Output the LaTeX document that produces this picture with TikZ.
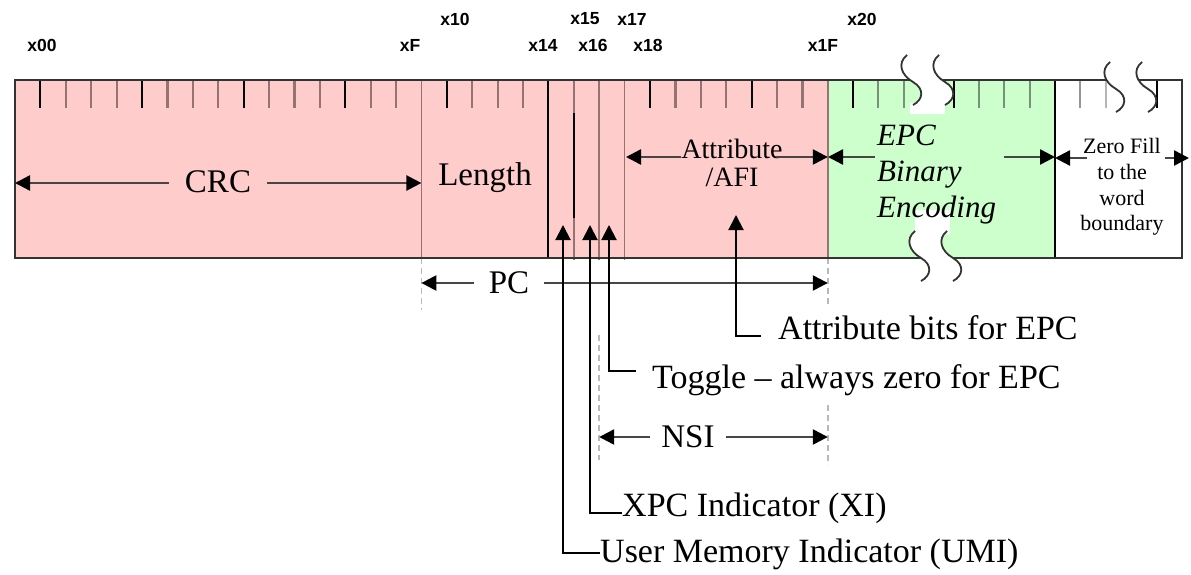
\documentclass[tikz,border=0pt]{standalone}
\usepackage{fontspec}
\setmainfont{Liberation Serif}
\newfontfamily\lblfont{Liberation Sans}
\usetikzlibrary{arrows.meta}
\definecolor{pinkfill}{RGB}{255,204,204}
\definecolor{greenfill}{RGB}{204,255,204}
\definecolor{tickgray}{RGB}{150,115,115}
\definecolor{gtickgray}{RGB}{120,145,120}
\definecolor{wtickgray}{RGB}{150,150,150}
\definecolor{dashgray}{RGB}{185,185,185}
\definecolor{shaft}{RGB}{70,70,70}
\begin{document}
\begin{tikzpicture}[x=1pt,y=-1pt,
  blacktick/.style={line width=2pt, draw=black},
  graytick/.style={line width=2.2pt, draw=tickgray},
  sepline/.style={line width=1.6pt, draw=tickgray},
  dashext/.style={line width=1.6pt, draw=dashgray, dash pattern=on 6pt off 4pt},
  dim/.style={line width=2.4pt, draw=shaft, -{Triangle[length=15pt,width=15pt,color=black]}},
  conn/.style={line width=2pt, draw=black, -{Triangle[length=15pt,width=15pt]}},
  squig/.style={line width=1.8pt, draw=black!80},
  bitlbl/.style={font=\lblfont\bfseries\fontsize{17.5}{17.5}\selectfont, inner sep=0pt},
  big/.style={font=\fontsize{33}{36}\selectfont},
  note/.style={font=\fontsize{34}{36}\selectfont, anchor=west, inner ysep=0pt},
  squigpair/.pic={
    \fill[white] (0,0) .. controls +(-10,8) and +(-12,-7) .. (6,27) .. controls +(12,7) and +(10,-5) .. (6,50)
      -- (38,50) .. controls +(10,-5) and +(12,7) .. (38,27) .. controls +(-12,-7) and +(-10,8) .. (32,0) -- cycle;
    \draw[squig] (0,0) .. controls +(-10,8) and +(-12,-7) .. (6,27) .. controls +(12,7) and +(10,-5) .. (6,50);
    \draw[squig] (32,0) .. controls +(-10,8) and +(-12,-7) .. (38,27) .. controls +(12,7) and +(10,-5) .. (38,50);
  }
]
\useasboundingbox (0,0) rectangle (1191,575);

% fills
\fill[pinkfill] (15,80) rectangle (828,258);
\fill[greenfill] (828,80) rectangle (1055,258);

% ticks
\foreach \k in {1,5,9,13,17,25,29}
  \draw[blacktick] ({15+25.4*\k},80) -- ({15+25.4*\k},108);
\foreach \k in {2,3,4,6,7,8,10,11,12,14,15,18,19,20,26,27,28,30,31}
  \draw[graytick] ({15+25.4*\k},80) -- ({15+25.4*\k},108);
\foreach \x in {853,954}
  \draw[blacktick] (\x,80) -- (\x,108);
\foreach \x in {878,904,979,1004,1030}
  \draw[line width=2.2pt, draw=gtickgray] (\x,80) -- (\x,108);
\draw[line width=2.2pt, draw=wtickgray] (1080,80) -- (1080,108);
\draw[line width=2.2pt, draw=wtickgray!70] (1106,80) -- (1106,108);
\draw[blacktick] (1157,80) -- (1157,108);

% field separators
\draw[sepline] (421.4,80) -- (421.4,258);
\draw[dashext] (421.4,258) -- (421.4,310);
\draw[line width=2pt] (548.4,80) -- (548.4,258);
\draw[sepline] (573.8,80) -- (573.8,260);
\draw[line width=2pt] (573.8,113) -- (573.8,218);
\draw[sepline] (599.2,80) -- (599.2,260);
\draw[sepline] (624.6,80) -- (624.6,260);
\draw[sepline] (827.8,80) -- (827.8,258);
\draw[dashext] (827.8,258) -- (827.8,307);
\draw[dashext] (827.8,405) -- (827.8,465);
\draw[dashext] (599.2,335) -- (599.2,460);
\draw[line width=2pt] (1055,80) -- (1055,258);
\draw[line width=2pt, draw=black!80] (15,80) rectangle (1182,258);

% breaks
\fill[white] (910,103) rectangle (945,114);
\fill[white] (915,210) rectangle (950,234);
\pic at (907,55) {squigpair};
\pic at (915,231) {squigpair};
\pic at (1110,62) {squigpair};

% bit position labels
\node[bitlbl] (b00) at (42,45) {x00};
\node[bitlbl] (b0F) at (410,45) {xF};
\node[bitlbl] (b10) at (455,19) {x10};
\node[bitlbl] (b14) at (543,45) {x14};
\node[bitlbl] (b15) at (585,19) {x15};
\node[bitlbl] (b16) at (593,45) {x16};
\node[bitlbl] (b17) at (632,19) {x17};
\node[bitlbl] (b18) at (648,45) {x18};
\node[bitlbl] (b1F) at (823,45) {x1F};
\node[bitlbl] (b20) at (862,19) {x20};

% field texts
\node[big, inner xsep=16pt] (crc) at (218,182) {CRC};
\coordinate (crcL) at (15,183);
\coordinate (crcR) at (421.4,183);
\draw[dim] (crc.west |- crcL) -- (crcL);
\draw[dim] (crc.east |- crcR) -- (crcR);

\node[big] (len) at (485,178) {Length};

\node[align=center, font=\fontsize{28}{28}\selectfont, inner sep=0pt] (attr) at (732,163) {Attribute\\/AFI};
\coordinate (attrL) at (626,157);
\coordinate (attrLs) at (681,157);
\coordinate (attrR) at (827.8,157);
\coordinate (attrRs) at (776,157);
\draw[dim] (attrLs) -- (attrL);
\draw[dim] (attrRs) -- (attrR);

\node[align=left, anchor=west, font=\itshape\fontsize{31}{36}\selectfont, inner sep=0pt] (epc) at (877,175) {EPC\\Binary\\Encoding};
\coordinate (epcL) at (828,157);
\coordinate (epcLs) at (875,157);
\coordinate (epcR) at (1055,157);
\coordinate (epcRs) at (1004,157);
\draw[dim] (epcLs) -- (epcL);
\draw[dim] (epcRs) -- (epcR);

\node[align=center, font=\fontsize{22}{25.7}\selectfont, inner sep=0pt] (zf) at (1122,187) {Zero Fill\\to the\\word\\boundary};
\coordinate (zfL) at (1055,158);
\coordinate (zfLs) at (1087,158);
\coordinate (zfR) at (1189,158);
\coordinate (zfRs) at (1165,158);
\draw[dim] (zfLs) -- (zfL);
\draw[dim] (zfRs) -- (zfR);

% PC and NSI spans
\node[big, inner xsep=15pt] (pc) at (509,283) {PC};
\coordinate (pcL) at (421.4,283);
\coordinate (pcR) at (827.8,283);
\draw[dim] (pc.west |- pcL) -- (pcL);
\draw[dim] (pc.east |- pcR) -- (pcR);

\node[big, inner xsep=11pt] (nsi) at (688,437) {NSI};
\coordinate (nsiL) at (599.2,437);
\coordinate (nsiR) at (827.8,437);
\draw[dim] (nsi.west |- nsiL) -- (nsiL);
\draw[dim] (nsi.east |- nsiR) -- (nsiR);

% callout labels
\node[note, inner xsep=17pt] (abits) at (761,328) {Attribute bits for EPC};
\node[note, inner xsep=16pt] (tgl) at (636,380) {Toggle -- always zero for EPC};
\node[note, inner xsep=0pt] (xi) at (622,508) {XPC Indicator (XI)};
\node[note, inner xsep=0pt] (umi) at (600,554) {User Memory Indicator (UMI)};

\coordinate (abitsTip) at (736,215);
\coordinate (abitsC) at (736,336);
\coordinate (tglTip) at (609,225);
\coordinate (tglC) at (609,371);
\coordinate (xiTip) at (590,225);
\coordinate (xiC) at (590,513);
\coordinate (umiTip) at (563,225);
\coordinate (umiC) at (563,553);

\draw[conn] (abits.west |- abitsC) -- (abitsC) -- (abitsTip);
\draw[conn] (tgl.west |- tglC) -- (tglC) -- (tglTip);
\draw[conn] (xi.west |- xiC) -- (xiC) -- (xiTip);
\draw[conn] (umi.west |- umiC) -- (umiC) -- (umiTip);
\end{tikzpicture}
\end{document}
